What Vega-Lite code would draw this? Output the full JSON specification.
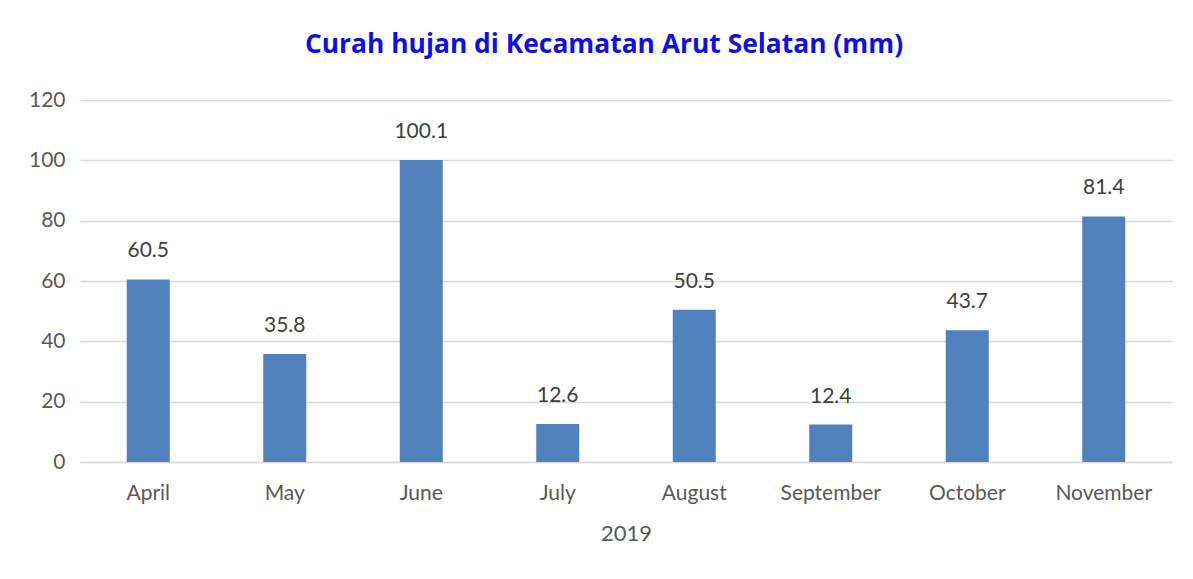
{
  "$schema": "https://vega.github.io/schema/vega-lite/v6.json",
  "autosize": {"type": "none"},
  "width": 1092,
  "height": 362,
  "padding": {"left": 80, "top": 100, "right": 21, "bottom": 117},
  "background": "white",
  "config": {"view": {"stroke": null}, "font": "Lato"},
  "title": {
    "text": "Curah hujan di Kecamatan Arut Selatan (mm)",
    "color": "#0f0fe8",
    "fontSize": 26.4,
    "fontWeight": "bold",
    "font": "Open Sans",
    "anchor": "middle",
    "dx": -22,
    "offset": 31
  },
  "data": {
    "values": [
      {"month": "April", "value": 60.5},
      {"month": "May", "value": 35.8},
      {"month": "June", "value": 100.1},
      {"month": "July", "value": 12.6},
      {"month": "August", "value": 50.5},
      {"month": "September", "value": 12.4},
      {"month": "October", "value": 43.7},
      {"month": "November", "value": 81.4}
    ]
  },
  "encoding": {
    "x": {
      "field": "month",
      "type": "nominal",
      "sort": null,
      "scale": {"paddingInner": 0.685, "paddingOuter": 0.3425},
      "axis": {
        "title": "2019",
        "titleFontSize": 22,
        "titleFontWeight": "normal",
        "titleColor": "#595959",
        "titlePadding": 20,
        "labelAngle": 0,
        "labelFontSize": 21,
        "labelColor": "#595959",
        "labelPadding": 20,
        "ticks": false,
        "domainColor": "#d9d9d9",
        "domainWidth": 1.5
      }
    },
    "y": {
      "field": "value",
      "type": "quantitative",
      "scale": {"domain": [0, 120]},
      "axis": {
        "title": null,
        "values": [0, 20, 40, 60, 80, 100, 120],
        "labelFontSize": 21,
        "labelColor": "#595959",
        "labelPadding": 15,
        "ticks": false,
        "domain": false,
        "gridColor": "#d9d9d9",
        "gridWidth": 1.5
      }
    }
  },
  "layer": [
    {"mark": {"type": "bar", "color": "#4f81bd"}},
    {
      "mark": {"type": "text", "fontSize": 21, "color": "#404040", "baseline": "alphabetic", "dy": -22},
      "encoding": {"text": {"field": "value", "type": "quantitative", "format": ".1f"}}
    }
  ]
}
